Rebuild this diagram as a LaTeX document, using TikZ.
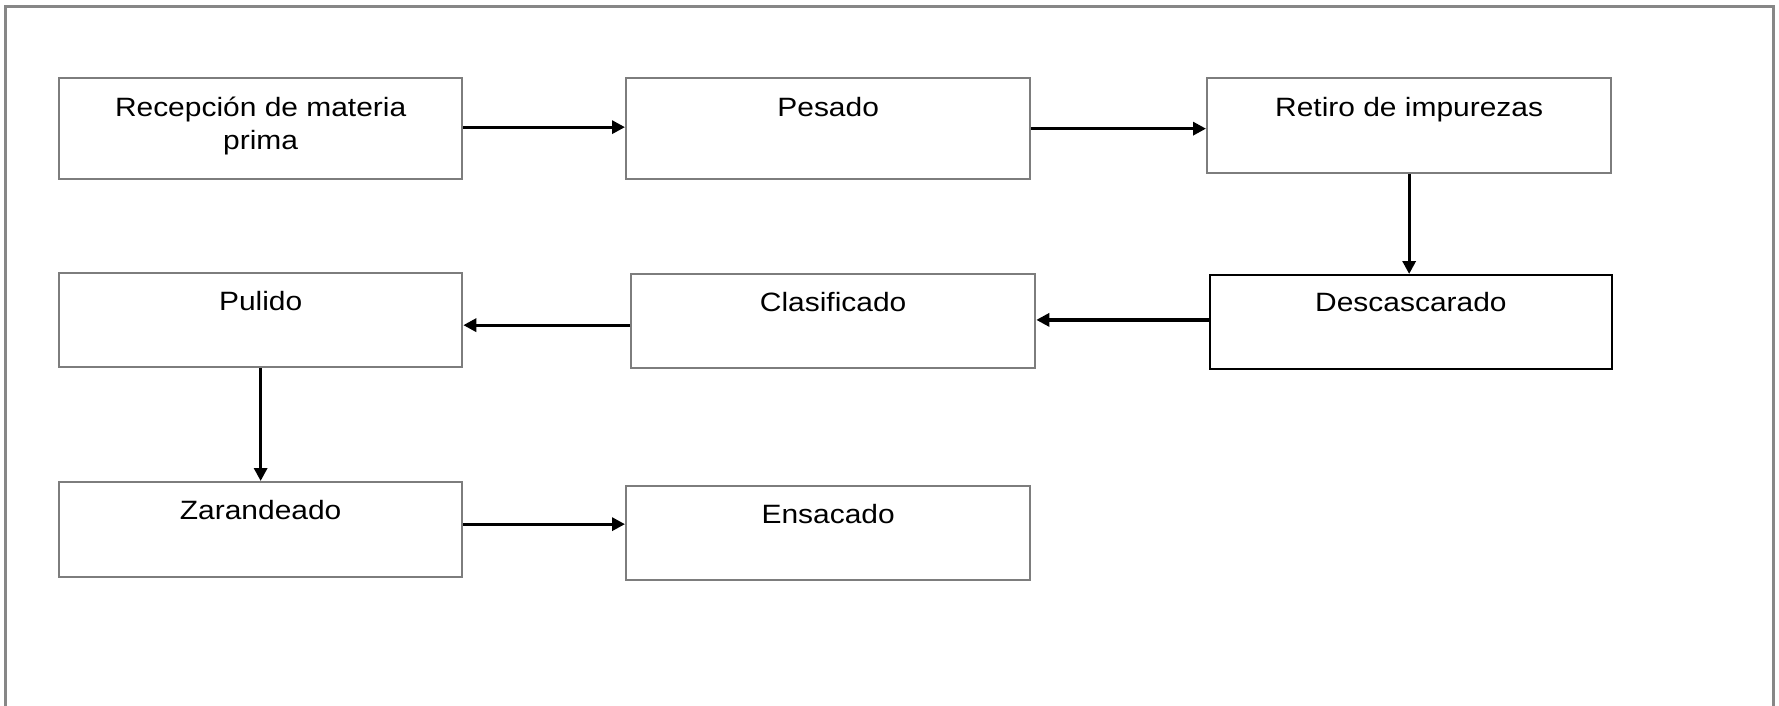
\documentclass[tikz,border=0pt]{standalone}
\usepackage{fontspec}
\usetikzlibrary{arrows.meta}
\newfontfamily\stagefont{Liberation Sans}[FakeStretch=1.13]
\definecolor{boxgray}{RGB}{125,125,125}
\definecolor{framegray}{RGB}{135,135,135}
\begin{document}
\begin{tikzpicture}[x=1pt,y=-1pt]
  \tikzset{
    stage/.style={draw=boxgray, line width=2.3pt, anchor=north west,
      inner sep=0pt, minimum width=404pt, text height=38pt,
      font={\stagefont\fontsize{26.5}{33}\selectfont}},
    flow/.style={draw=black, line width=3.2pt,
      -{Triangle[length=13pt,width=13pt]}}
  }
  \useasboundingbox (0,0) rectangle (1779,706);
  % outer frame, open at the bottom
  \draw[framegray, line width=2.4pt] (5.5,712) -- (5.5,6.5) -- (1773.5,6.5) -- (1773.5,712);

  % process stages
  \node[stage, minimum width=403pt, text depth=63pt] (rec) at (58,77)
    {\begin{tabular}[t]{@{}c@{}}Recepción de materia\\prima\end{tabular}};
  \node[stage, text depth=63pt] (pes) at (625,77) {Pesado};
  \node[stage, text depth=57pt] (ret) at (1206,77) {Retiro de impurezas};
  \node[stage, draw=black, line width=1.8pt, minimum width=402pt,
        text height=37pt, text depth=57pt] (des) at (1209,274) {Descascarado};
  \node[stage, text height=37pt, text depth=57pt] (cla) at (630,273) {Clasificado};
  \node[stage, minimum width=403pt, text height=37pt, text depth=57pt] (pul) at (58,272) {Pulido};
  \node[stage, minimum width=403pt, text height=37pt, text depth=58pt] (zar) at (58,481) {Zarandeado};
  \node[stage, text height=37pt, text depth=57pt] (ens) at (625,485) {Ensacado};

  % connectors
  \draw[flow] ([yshift=1.5pt]rec.east) -- ([yshift=1.5pt]rec.east -| pes.west);
  \draw[flow] (pes.east) -- (pes.east -| ret.west);
  \draw[flow] (ret.south) -- (ret.south |- des.north);
  \draw[flow] ([yshift=2pt]des.west) -- ([yshift=2pt]des.west -| cla.east);
  \draw[flow] ([yshift=-4pt]cla.west) -- ([yshift=-4pt]cla.west -| pul.east);
  \draw[flow] (pul.south) -- (pul.south |- zar.north);
  \draw[flow] ([yshift=5.5pt]zar.east) -- ([yshift=5.5pt]zar.east -| ens.west);
\end{tikzpicture}
\end{document}
